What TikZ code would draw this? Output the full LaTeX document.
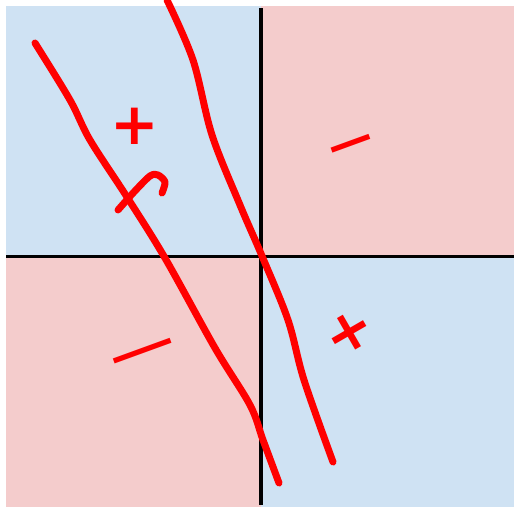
\documentclass[tikz,border=0pt]{standalone}
\usepackage{fontspec}
\newfontfamily\signfont{DejaVu Sans}
\usepackage{tikz}
\definecolor{quadblue}{HTML}{CFE2F3}
\definecolor{quadpink}{HTML}{F4CCCC}
\tikzset{
  redline/.style={red, line width=7pt, line cap=round, line join=round},
  axisline/.style={black, line width=3.2pt},
  signmark/.style={red, inner sep=0pt, font=\signfont\bfseries\fontsize{46}{46}\selectfont},
  bigsign/.style={signmark, font=\signfont\bfseries\fontsize{58}{58}\selectfont}
}
\begin{document}
\begin{tikzpicture}[x=1pt, y=-1pt]
\useasboundingbox (0,0) rectangle (514,507);
% quadrants
\fill[quadblue] (6,6) rectangle (261,256.5);
\fill[quadpink] (261,6) rectangle (514,256.5);
\fill[quadpink] (6,256.5) rectangle (261,507);
\fill[quadblue] (261,256.5) rectangle (514,507);
% axes
\draw[axisline] (261,8) -- (261,505);
\draw[axisline] (6,256.5) -- (514,256.5);
% left curve with its hook
\draw[redline] plot[smooth, tension=0.55] coordinates {(35,43) (70,100) (90,140) (127,197) (165,258) (215,348) (250,405) (263,440) (279,483)};
\draw[redline] plot[smooth, tension=0.5] coordinates {(118,210) (134,192) (150,176) (158,175) (165,182) (162,193)};
% right curve
\draw[redline] plot[smooth, tension=0.55] coordinates {(167,0) (193,60) (212,135) (240,205) (262,256) (288,320) (304,380) (333,462)};
% signs
\node[bigsign] (plusTL) at (135,126) {+};
\node[signmark, rotate=20, xscale=1.4] (minusTR) at (353,149) {−};
\node[signmark, rotate=20, xscale=2.1] (minusBL) at (145,357) {−};
\node[bigsign, rotate=30] (plusBR) at (349,333) {+};
\end{tikzpicture}
\end{document}
